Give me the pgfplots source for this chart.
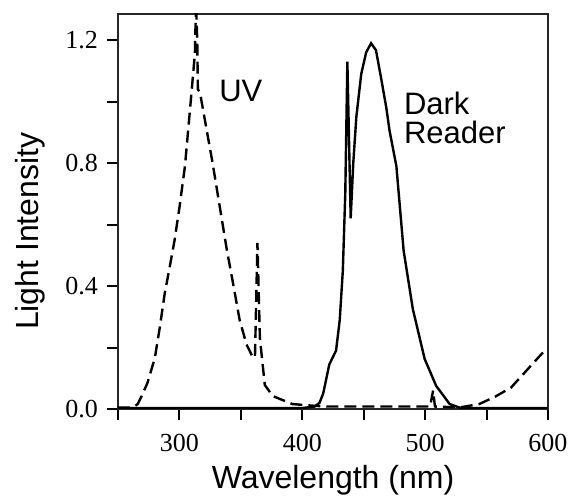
\documentclass[border=0pt]{standalone}
\usepackage{fontspec}
\setmainfont{Liberation Sans}
\newfontfamily\tickfont{Liberation Serif}
\usepackage{pgfplots}
\pgfplotsset{compat=1.18}

\begin{document}
\begin{tikzpicture}
  \begin{axis}[
      scale only axis,
      width=215pt, height=197.5pt,
      xmin=250, xmax=600,
      ymin=0, ymax=1.285,
      xtick={300,400,500,600},
      minor xtick={250,350,450,550},
      ytick={0,0.4,0.8,1.2},
      minor ytick={0.2,0.6,1.0},
      tick pos=left,
      tick align=outside,
      major tick length=5.5pt, minor tick length=5.5pt,
      every tick/.style={black, line width=1pt},
      axis line style={line width=1.1pt, black!85},
      /pgf/number format/assume math mode=true,
      tick label style={font=\fontsize{13}{15}\selectfont\tickfont},
      yticklabel style={xshift=-1pt, /pgf/number format/.cd, fixed, fixed zerofill, precision=1},
      xticklabel style={inner xsep=0pt, yshift=-3.5pt, /pgf/number format/.cd, fixed, precision=0},
      xlabel={Wavelength (nm)},
      ylabel={Light Intensity},
      label style={font=\fontsize{16}{18}\selectfont},
      xlabel style={at={(axis description cs:0.5,-0.18)}, anchor=center},
      ylabel style={at={(axis description cs:-0.205,0.45)}, anchor=center},
    ]
    % Dark Reader (solid)
    \addplot[black, line width=1.2pt] coordinates {
      (250,0.003) (300,0.003) (400,0.003) (410,0.008) (414,0.02) (417,0.05)
      (422,0.145) (427.5,0.19) (430.5,0.29) (433,0.45) (435,0.70) (436.7,1.13)
      (439.4,0.62) (441.5,0.80) (444,0.95) (448,1.09) (452,1.16) (456,1.19)
      (460,1.167) (464,1.08) (468.4,0.98) (471,0.906) (476.6,0.79) (482.5,0.515)
      (490,0.325) (499.6,0.163) (509,0.075) (520,0.016) (529,0.003) (600,0.003)
    };
    % UV (dashed)
    \addplot[black, line width=1.2pt, dash pattern=on 6pt off 3pt] coordinates {
      (250,0.005) (262,0.005) (266,0.016) (269,0.04) (274,0.085) (280,0.166)
      (284,0.265) (288,0.375) (292,0.46) (296,0.548) (300,0.655) (304.5,0.79)
      (310,1.037) (312.6,1.157) (313.5,1.32) (314.5,1.20) (315,1.04) (316.7,1.03)
      (327,0.80) (338.5,0.52) (343.6,0.41) (349,0.29) (354.6,0.21) (360,0.166)
      (361.5,0.17) (363.5,0.54) (365.5,0.23) (369.5,0.078) (376,0.042) (392,0.016)
      (411,0.01) (420,0.008) (504,0.008) (506.5,0.06) (508,0.008) (528,0.005)
      (544,0.016) (557,0.04) (570,0.07) (595,0.18) (600,0.195)
    };
    \node[font=\fontsize{15.5}{17}\selectfont, inner sep=0pt] at (axis cs:350,1.036) {UV};
    \node[font=\fontsize{15.5}{14.5}\selectfont, inner sep=0pt, anchor=north west, align=left]
      at (axis cs:482.5,1.031) {Dark\\Reader};
  \end{axis}
  \path (-59pt,-44pt) rectangle (225.5pt,204.5pt);
\end{tikzpicture}
\end{document}
